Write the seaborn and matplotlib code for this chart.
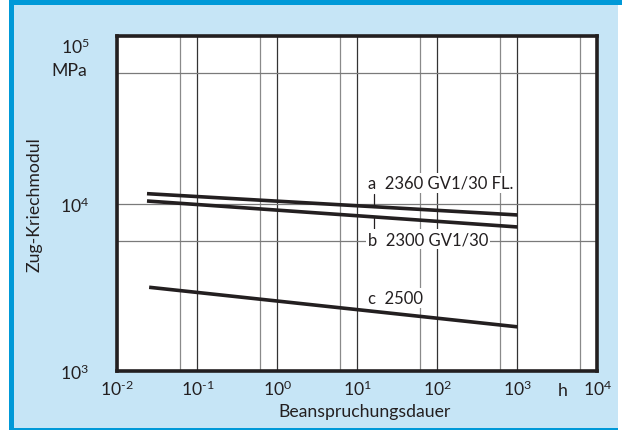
import numpy as np
import pandas as pd
import matplotlib
matplotlib.use("Agg")
import matplotlib.pyplot as plt
import matplotlib.ticker as mticker
import matplotlib.transforms as mtransforms
from matplotlib.patches import Rectangle
import seaborn as sns

# Creep modulus (MPa) over load duration (h), straight lines in log-log space
duration_ab = [0.0235, 1000]
duration_c = [0.025, 1000]
modulus_a = [11450, 8540]
modulus_b = [10350, 7240]
modulus_c = [3155, 1830]
series_names = ["a", "b", "c"]
series_labels = ["a  2360 GV1/30 FL.", "b  2300 GV1/30", "c  2500"]

x_ticks = [1e-2, 1e-1, 1e0, 1e1, 1e2, 1e3, 1e4]
x_tick_labels = [r"$\mathregular{10^{\text{-}2}}$", r"$\mathregular{10^{\text{-}1}}$",
                 r"$\mathregular{10^{0}}$", r"$\mathregular{10^{1}}$",
                 r"$\mathregular{10^{2}}$", r"$\mathregular{10^{3}}$",
                 r"$\mathregular{10^{4}}$"]
x_minor = [6e-2, 6e-1, 6e0, 6e1, 6e2, 6e3]
y_ticks = [1e3, 1e4, 1e5]
y_tick_labels = [r"$\mathregular{10^{3}}$", r"$\mathregular{10^{4}}$",
                 r"$\mathregular{10^{5}}$"]
y_minor = [6e3, 6e4]

label_x = 13.6
label_y = [13270, 6130, 2720]
leader_x = 16.2

ink = "#231f20"
panel_blue = "#c6e5f6"
border_blue = "#0099d8"

sns.set_theme(style="white")
plt.rcParams["font.family"] = ["Lato", "DejaVu Sans"]
plt.rcParams["mathtext.fontset"] = "custom"
plt.rcParams["mathtext.rm"] = "Lato"
plt.rcParams["mathtext.it"] = "Lato:italic"
plt.rcParams["mathtext.bf"] = "Lato:bold"

df = pd.DataFrame({
    "Beanspruchungsdauer": duration_ab + duration_ab + duration_c,
    "Zug-Kriechmodul": modulus_a + modulus_b + modulus_c,
    "Reihe": ["a"] * 2 + ["b"] * 2 + ["c"] * 2,
})

W, H = 622, 431
fig = plt.figure(figsize=(W / 100, H / 100), dpi=100)
fig.patch.set_facecolor("white")

# light blue panel with blue border
fig.add_artist(Rectangle((9 / W, 0), (618 - 9) / W, 1, transform=fig.transFigure,
                         facecolor=panel_blue, edgecolor="none", zorder=-10))
fig.add_artist(Rectangle((9 / W, 1 - 5.5 / H), (622 - 9) / W, 5.5 / H,
                         transform=fig.transFigure, facecolor=border_blue,
                         edgecolor="none", zorder=-9))
fig.add_artist(Rectangle((9 / W, 0), 4.5 / W, 1, transform=fig.transFigure,
                         facecolor=border_blue, edgecolor="none", zorder=-9))
fig.add_artist(Rectangle((9 / W, 0), (618 - 9) / W, 2.5 / H,
                         transform=fig.transFigure, facecolor=border_blue,
                         edgecolor="none", zorder=-9))

ax = fig.add_axes([117.3 / W, 1 - 371.7 / H, 480 / W, 334.4 / H])
ax.set_facecolor("white")

sns.lineplot(data=df, x="Beanspruchungsdauer", y="Zug-Kriechmodul", hue="Reihe",
             palette=[ink, ink, ink], linewidth=2.6, legend=False, ax=ax,
             zorder=3)
for line in ax.get_lines():
    line.set_solid_capstyle("butt")

ax.set_xscale("log")
ax.set_yscale("log")
ax.set_xlim(1e-2, 1e4)
ax.set_ylim(1e3, 1e5)

ax.xaxis.set_major_locator(mticker.FixedLocator(x_ticks))
ax.xaxis.set_major_formatter(mticker.FixedFormatter(x_tick_labels))
ax.xaxis.set_minor_locator(mticker.FixedLocator(x_minor))
ax.xaxis.set_minor_formatter(mticker.NullFormatter())
ax.yaxis.set_major_locator(mticker.FixedLocator(y_ticks))
ax.yaxis.set_major_formatter(mticker.FixedFormatter(y_tick_labels))
ax.yaxis.set_minor_locator(mticker.FixedLocator(y_minor))
ax.yaxis.set_minor_formatter(mticker.NullFormatter())

ax.set_axisbelow(True)
ax.grid(True, axis="x", which="major", color="#333333", linewidth=0.9)
ax.grid(True, axis="x", which="minor", color="#8a8a8a", linewidth=0.9)
ax.grid(True, axis="y", which="both", color="#7a7a7a", linewidth=0.9)

ax.tick_params(axis="both", which="both", length=0, colors=ink, labelsize=12.7)
ax.tick_params(axis="x", pad=6)
ax.tick_params(axis="y", pad=20)

for s in ax.spines.values():
    s.set_visible(True)
    s.set_color(ink)
    s.set_linewidth(2.6)

ax.set_xlabel("Beanspruchungsdauer", fontsize=12.7, color=ink)
ax.set_ylabel("Zug-Kriechmodul", fontsize=12.7, color=ink)
ax.xaxis.set_label_coords(0.516, -0.096)
ax.yaxis.set_label_coords(-0.155, 0.5)

fig.canvas.draw()
ax.get_yticklabels()[-1].set_verticalalignment("top")

# unit labels
xt = mtransforms.blended_transform_factory(ax.transData, ax.transAxes)
ax.text(3720, -0.033, "h", transform=xt, ha="center", va="top",
        fontsize=12.7, color=ink)
yt = mtransforms.blended_transform_factory(ax.transAxes, ax.transData)
ax.text(-0.0625, 10 ** 4.8, "MPa", transform=yt, ha="right", va="center",
        fontsize=12.7, color=ink)

# series labels with short leader ticks
for name, text, ly in zip(series_names, series_labels, label_y):
    ax.text(label_x, ly, text, ha="left", va="center", fontsize=12,
            color=ink, zorder=4,
            bbox=dict(boxstyle="square,pad=0.12", facecolor="white",
                      edgecolor="none"))


def on_line(xs, ys, x):
    return 10 ** np.interp(np.log10(x), np.log10(xs), np.log10(ys))


ya = on_line(duration_ab, modulus_a, leader_x)
yb = on_line(duration_ab, modulus_b, leader_x)
ax.plot([leader_x, leader_x], [11400, ya], color=ink, linewidth=0.9, zorder=2)
ax.plot([leader_x, leader_x], [yb, 6860], color=ink, linewidth=0.9, zorder=2)

fig.savefig("out.png", dpi=100, facecolor=fig.get_facecolor())
